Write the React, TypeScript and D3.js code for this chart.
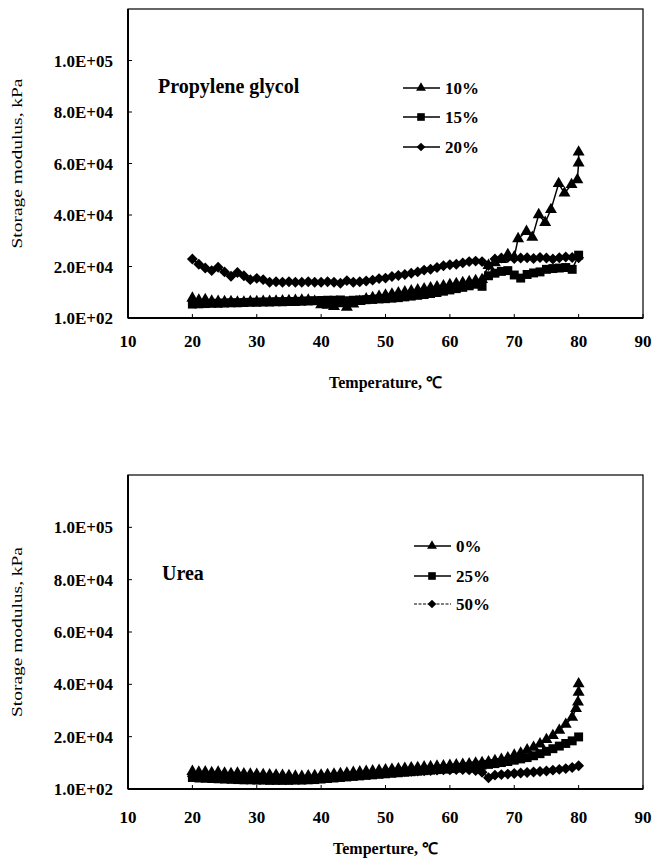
import React from "react";
import * as d3 from "d3";

// Temperatures (°C), about one marker per degree
const temps = [
  20, 21, 22, 23, 24, 25, 26, 27, 28, 29, 30, 31, 32, 33, 34, 35, 36, 37, 38, 39, 40,
  41, 42, 43, 44, 45, 46, 47, 48, 49, 50, 51, 52, 53, 54, 55, 56, 57, 58, 59, 60,
  61, 62, 63, 64, 65, 66, 67, 68, 69, 70, 71, 72, 73, 74, 75, 76, 77, 78, 79, 80,
];

// Propylene glycol 10% has its own temperatures at the end (held at 80 °C)
const pg10Temps = [
  20, 21, 22, 23, 24, 25, 26, 27, 28, 29, 30, 31, 32, 33, 34, 35, 36, 37, 38, 39, 40,
  41, 42, 43, 44, 45, 46, 47, 48, 49, 50, 51, 52, 53, 54, 55, 56, 57, 58, 59, 60,
  61, 62, 63, 64, 65, 66, 67, 68, 69, 70, 70.6, 71.9, 72.8, 73.8, 74.8, 75.7, 76.9,
  77.8, 78.9, 79.8, 80, 80,
];
const pg10 = [
  7800, 7000, 7200, 6600, 6500, 6400, 6400, 6300, 6300, 6400, 6400, 6500, 6500, 6600,
  6700, 6800, 6900, 7000, 7000, 6500, 5200, 5000, 4500, 5600, 4300, 5500, 6500, 7500,
  8000, 8500, 9000, 9400, 9800, 10200, 10600, 11000, 11400, 11800, 12200, 12600, 13000,
  13400, 13800, 14200, 14600, 15000, 20500, 21500, 22800, 24700, 23800, 30900, 33700,
  31400, 40200, 37200, 42200, 52300, 48600, 51900, 53800, 60300, 64500,
];
const pg15 = [
  5500, 5600, 5700, 5800, 5800, 5900, 6000, 6000, 6100, 6200, 6200, 6300, 6300, 6400,
  6400, 6500, 6500, 6600, 6700, 6800, 6900, 7000, 7000, 7100, 6800, 7000, 7100, 7200,
  7300, 7500, 7600, 7800, 8000, 8300, 8600, 8900, 9200, 9600, 10000, 10500, 11000,
  11500, 12000, 12600, 13200, 12400, 16500, 17500, 18200, 18500, 16800, 15600, 17000,
  17600, 18000, 19000, 19300, 19500, 19700, 19000, 24500,
];
const pg20 = [
  23000, 21000, 19500, 18500, 19800, 18000, 16300, 17800, 16500, 15000, 15500, 15000,
  14000, 14200, 14000, 14200, 14000, 14000, 14200, 14000, 14000, 14200, 14000, 13600,
  14600, 14000, 14200, 14500, 14800, 15400, 15600, 16200, 16600, 17000, 17500, 18000,
  18700, 19000, 19700, 20400, 20800, 21000, 21500, 22000, 22200, 22000, 20500, 23000,
  23400, 23600, 23200, 23400, 23500, 23200, 23600, 23400, 23000, 23500, 23800, 23600,
  23500,
];

// Urea 0% also keeps climbing while held at 80 °C
const urea0Temps = [
  20, 21, 22, 23, 24, 25, 26, 27, 28, 29, 30, 31, 32, 33, 34, 35, 36, 37, 38, 39, 40,
  41, 42, 43, 44, 45, 46, 47, 48, 49, 50, 51, 52, 53, 54, 55, 56, 57, 58, 59, 60,
  61, 62, 63, 64, 65, 66, 67, 68, 69, 70, 71, 72, 73, 74, 75, 76, 77, 78, 79, 79.6,
  79.9, 80, 80,
];
const urea0 = [
  6800, 6500, 6600, 6300, 6500, 6200, 6000, 6200, 5900, 5800, 5700, 5600, 5500, 5400,
  5300, 5200, 5000, 4900, 5100, 5200, 5400, 5600, 5800, 6000, 6200, 6400, 6600, 6800,
  7000, 7200, 7400, 7600, 7800, 8000, 8200, 8300, 8500, 8600, 8800, 8900, 9100, 9300,
  9500, 9700, 10000, 10200, 10500, 10900, 11400, 12000, 13000, 13800, 15000, 16000,
  17300, 19000, 20500, 22500, 24800, 27500, 30800, 33300, 37100, 40300,
];
const urea25 = [
  4500, 4300, 4200, 4100, 4000, 3900, 3800, 3700, 3600, 3600, 3500, 3500, 3400, 3400,
  3400, 3400, 3500, 3500, 3600, 3700, 3900, 4100, 4300, 4500, 4700, 4900, 5100, 5300,
  5500, 5700, 5900, 6100, 6300, 6500, 6700, 6900, 7100, 7300, 7500, 7700, 7900, 8100,
  8300, 8600, 8900, 9200, 9500, 9800, 10200, 10600, 11100, 11600, 12100, 12800, 13600,
  14500, 15500, 16500, 17500, 18500, 20000,
];
const urea50 = [
  5000, 4800, 4700, 4600, 4500, 4400, 4300, 4200, 4100, 4000, 3900, 3900, 3800, 3800,
  3800, 3800, 3900, 4000, 4100, 4200, 4400, 4600, 4800, 5000, 5200, 5400, 5600, 5800,
  6000, 6200, 6400, 6600, 6700, 6800, 6900, 7000, 7100, 7200, 7300, 7400, 7400, 7500,
  7500, 7400, 7200, 6500, 4400, 5400, 5600, 5800, 6000, 6200, 6400, 6600, 6800, 7000,
  7300, 7600, 7900, 8300, 9000,
];

const xTicks = [10, 20, 30, 40, 50, 60, 70, 80, 90];
const yTicks = [100, 20100, 40100, 60100, 80100, 100100];
const yTickLabels = ["1.0E+02", "2.0E+04", "4.0E+04", "6.0E+04", "8.0E+04", "1.0E+05"];

const FONT = "'Liberation Serif', 'Times New Roman', serif";

type Shape = "triangle" | "square" | "diamond";
type Series = { name: string; t: number[]; v: number[]; shape: Shape; dashed?: boolean };

const symbolPath = (shape: Shape, legend = false) => {
  const type =
    shape === "triangle" ? d3.symbolTriangle : shape === "square" ? d3.symbolSquare : d3.symbolDiamond2;
  const size =
    shape === "triangle" ? (legend ? 42 : 62) : shape === "square" ? (legend ? 58 : 80) : legend ? 48 : 76;
  return d3.symbol().type(type).size(size)() as string;
};

type PanelProps = {
  top: number;
  bottom: number;
  series: Series[];
  label: string;
  labelX: number;
  labelY: number;
  legendX: number;
  legendRows: number[];
  tickBaseline: number;
  xTitle: string;
  xTitleY: number;
};

const left = 128;
const right = 643;

function Panel(p: PanelProps) {
  const x = d3.scaleLinear().domain([10, 90]).range([left, right]);
  const y = d3.scaleLinear().domain([100, 120100]).range([p.bottom, p.top]);

  const line = d3
    .line<[number, number]>()
    .x((d) => x(d[0]))
    .y((d) => y(d[1]));

  return (
    <g>
      {/* frame */}
      <rect x={left} y={p.top} width={right - left} height={p.bottom - p.top} fill="none" stroke="#000" strokeWidth={1.2} />
      <line x1={left} x2={right} y1={p.bottom} y2={p.bottom} stroke="#000" strokeWidth={2} />
      <line x1={left} x2={left} y1={p.top} y2={p.bottom} stroke="#000" strokeWidth={2} />

      {/* x ticks */}
      {xTicks.map((t) => (
        <g key={"x" + t}>
          <line x1={x(t)} x2={x(t)} y1={p.bottom} y2={p.bottom - 4} stroke="#000" strokeWidth={1} />
          <text x={x(t)} y={p.tickBaseline} textAnchor="middle" fontFamily={FONT} fontWeight="bold" fontSize={17}>
            {t}
          </text>
        </g>
      ))}

      {/* y ticks */}
      {yTicks.map((t, i) => (
        <g key={"y" + t}>
          <line x1={left} x2={left + 4} y1={y(t)} y2={y(t)} stroke="#000" strokeWidth={1} />
          <text x={113} y={y(t) + 6} textAnchor="end" fontFamily={FONT} fontWeight="bold" fontSize={17}>
            {yTickLabels[i]}
          </text>
        </g>
      ))}

      {/* axis titles */}
      <text
        transform={`translate(22, ${(p.top + p.bottom) / 2}) rotate(-90)`}
        textAnchor="middle"
        fontFamily={FONT}
        fontSize={15}
        textLength={170}
        lengthAdjust="spacingAndGlyphs"
      >
        Storage modulus, kPa
      </text>
      <text x={(left + right) / 2} y={p.xTitleY} textAnchor="middle" fontFamily={FONT} fontWeight="bold" fontSize={16}>
        {p.xTitle}
      </text>

      {/* series */}
      {p.series.map((s) => {
        const pts = s.t.map((t, i) => [t, s.v[i]] as [number, number]);
        const sym = symbolPath(s.shape);
        return (
          <g key={s.name}>
            <path d={line(pts) as string} fill="none" stroke="#000" strokeWidth={1.5} />
            {pts.map((d, i) => (
              <path key={i} d={sym} transform={`translate(${x(d[0])},${y(d[1])})`} fill="#000" />
            ))}
          </g>
        );
      })}

      {/* inset label */}
      <text x={p.labelX} y={p.labelY} fontFamily={FONT} fontWeight="bold" fontSize={20}>
        {p.label}
      </text>

      {/* legend */}
      {p.series.map((s, i) => {
        const ly = p.legendRows[i];
        return (
          <g key={"lg" + s.name}>
            <line
              x1={p.legendX}
              x2={p.legendX + 37}
              y1={ly}
              y2={ly}
              stroke="#000"
              strokeWidth={s.dashed ? 1 : 1.4}
              strokeDasharray={s.dashed ? "3,1.5" : undefined}
            />
            <path d={symbolPath(s.shape, true)} transform={`translate(${p.legendX + 18},${ly})`} fill="#000" />
            <text x={p.legendX + 42} y={ly + 6} fontFamily={FONT} fontWeight="bold" fontSize={17}>
              {s.name}
            </text>
          </g>
        );
      })}
    </g>
  );
}

const pgSeries: Series[] = [
  { name: "10%", t: pg10Temps, v: pg10, shape: "triangle" },
  { name: "15%", t: temps, v: pg15, shape: "square" },
  { name: "20%", t: temps, v: pg20, shape: "diamond" },
];

const ureaSeries: Series[] = [
  { name: "0%", t: urea0Temps, v: urea0, shape: "triangle" },
  { name: "25%", t: temps, v: urea25, shape: "square" },
  { name: "50%", t: temps, v: urea50, shape: "diamond", dashed: true },
];

export default function App() {
  return (
    <svg
      width={652}
      height={862}
      viewBox="0 0 652 862"
      style={{ position: "absolute", left: 0, top: 0, background: "#fff" }}
    >
      <rect width={652} height={862} fill="#fff" />
      <Panel
        top={9}
        bottom={318}
        series={pgSeries}
        label="Propylene glycol"
        labelX={158}
        labelY={93}
        legendX={403}
        legendRows={[88, 117, 147]}
        tickBaseline={347}
        xTitle="Temperature, ℃"
        xTitleY={388}
      />
      <Panel
        top={475}
        bottom={789}
        series={ureaSeries}
        label="Urea"
        labelX={162}
        labelY={580}
        legendX={414}
        legendRows={[546, 576, 604]}
        tickBaseline={823}
        xTitle="Temperture, ℃"
        xTitleY={854}
      />
    </svg>
  );
}
